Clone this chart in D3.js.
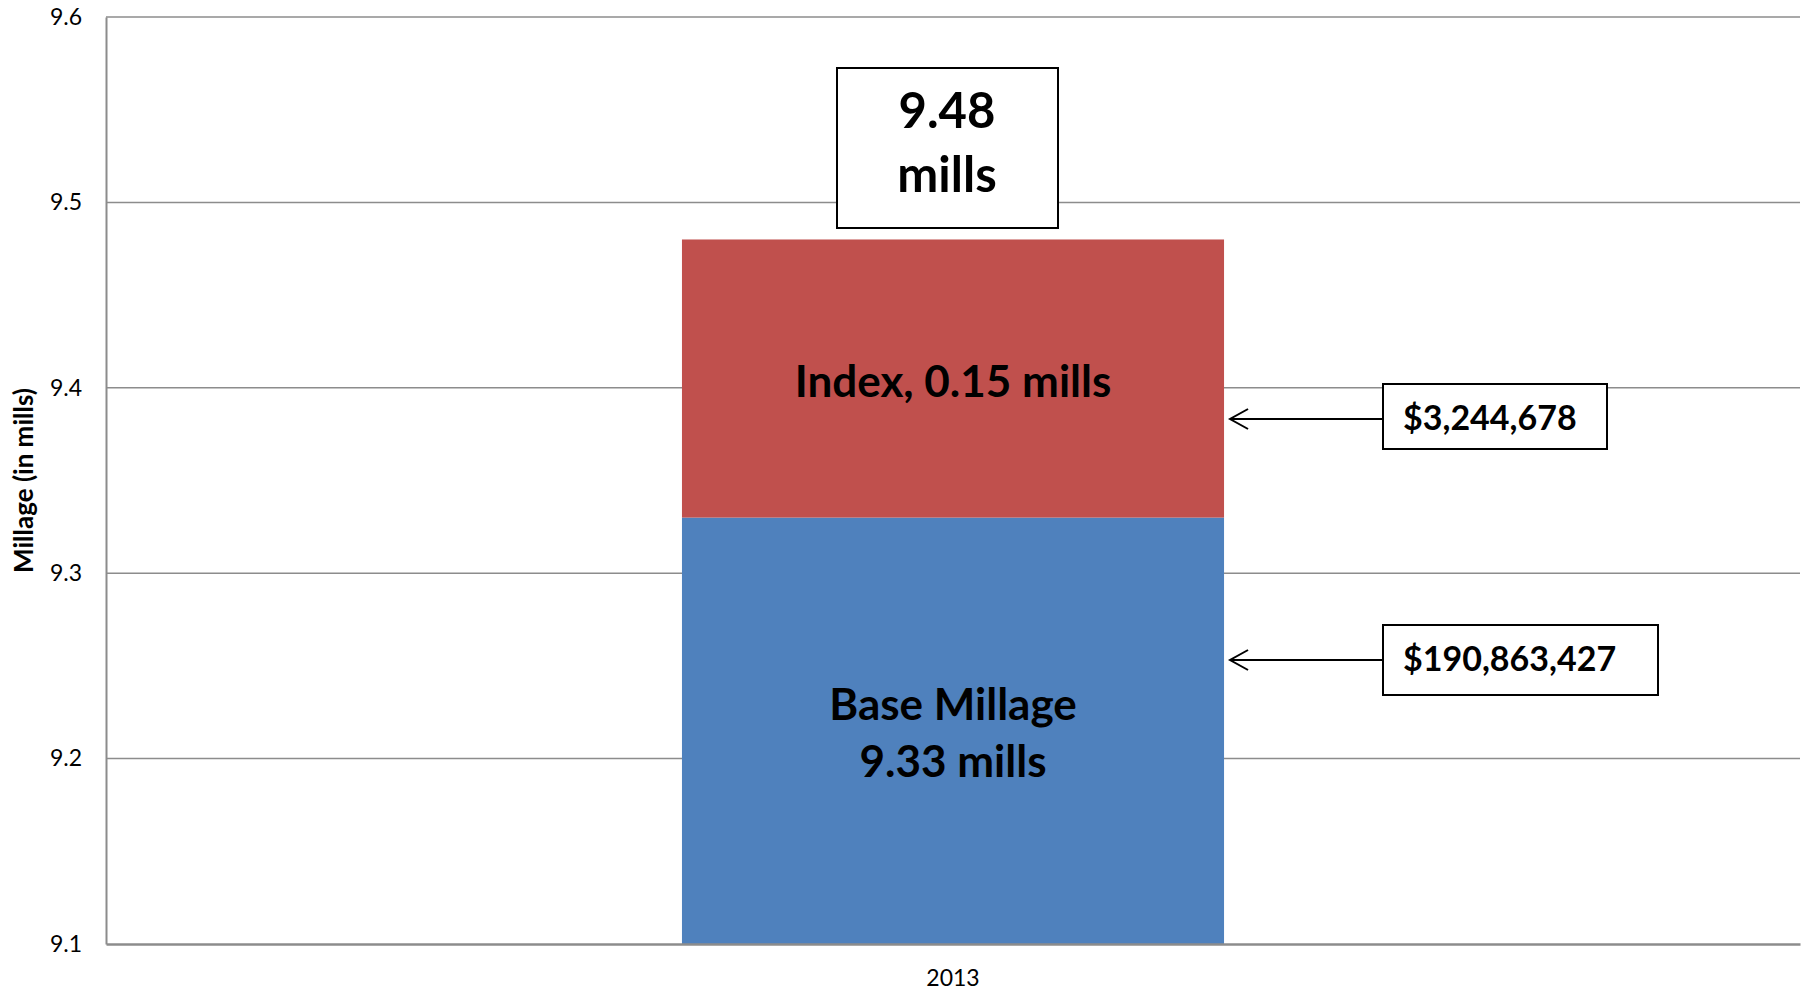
<!DOCTYPE html>
<html>
  <head>
    <meta charset="utf-8">
    <title>Millage 2013</title>
    <script src="https://d3js.org/d3.v7.min.js"></script>
  </head>
  <style>
    body { margin: 0; background: #fff; }
    svg text { font-family: Lato, "Open Sans", sans-serif; fill: #000; }
    .grid line { stroke: #8c8c8c; stroke-width: 1.5; }
    .callout { fill: #fff; stroke: #000; stroke-width: 2; }
  </style>
  <body>
    <script type="text/javascript">
        var width = 1803;
        var height = 992;

        // data
        const categories = ['2013'];
        const baseMillage = [9.33];
        const indexMillage = [0.15];
        const totalLabels = ['9.48', 'mills'];
        const dollarLabels = ['$3,244,678', '$190,863,427'];
        const yTicks = [9.1, 9.2, 9.3, 9.4, 9.5, 9.6];

        const margin = {left: 106, right: 3, top: 17, bottom: 48};
        const svg = d3.select('body').append('svg').attr('width', width).attr('height', height);

        const x = d3.scaleBand().domain(categories).range([margin.left, width - margin.right]).paddingInner(0.68).paddingOuter(0.34);
        const y = d3.scaleLinear().domain([9.1, 9.6]).range([height - margin.bottom, margin.top]);

        // gridlines
        svg.append('g').attr('class', 'grid')
          .selectAll('line').data(yTicks.slice(1)).enter().append('line')
          .attr('x1', margin.left).attr('x2', width - margin.right)
          .attr('y1', d => y(d)).attr('y2', d => y(d));

        // y axis
        const yAxis = svg.append('g').attr('transform', 'translate(' + margin.left + ',0)')
          .call(d3.axisLeft(y).tickValues(yTicks).tickFormat(d3.format('.1f')).tickSize(0).tickPadding(24));
        yAxis.select('.domain').attr('stroke', '#8c8c8c').attr('stroke-width', 2);
        yAxis.selectAll('text').attr('font-size', 23).attr('font-family', '"Open Sans", sans-serif');

        svg.append('text')
          .attr('transform', 'translate(33,' + y(9.35) + ') rotate(-90)')
          .attr('text-anchor', 'middle').attr('font-size', 26).attr('font-weight', 'bold')
          .text('Millage (in mills)');

        // stacked bar
        const bx = x(categories[0]);
        const bw = x.bandwidth();
        svg.append('rect').attr('x', bx).attr('width', bw)
          .attr('y', y(baseMillage[0])).attr('height', y(9.1) - y(baseMillage[0]))
          .attr('fill', '#4f81bd');
        svg.append('rect').attr('x', bx).attr('width', bw)
          .attr('y', y(baseMillage[0] + indexMillage[0])).attr('height', y(baseMillage[0]) - y(baseMillage[0] + indexMillage[0]))
          .attr('fill', '#c0504d');

        // x axis
        const xAxis = svg.append('g').attr('transform', 'translate(0,' + y(9.1) + ')')
          .call(d3.axisBottom(x).tickSize(0).tickPadding(26));
        xAxis.select('.domain').attr('stroke', '#8c8c8c').attr('stroke-width', 2.5);
        xAxis.selectAll('text').attr('font-size', 23).attr('font-family', '"Open Sans", sans-serif');

        const cx = bx + bw / 2;
        svg.append('text').attr('x', cx).attr('y', 397).attr('text-anchor', 'middle')
          .attr('font-size', 44).attr('font-weight', 'bold').text('Index, ' + indexMillage[0].toFixed(2) + ' mills');
        svg.append('text').attr('x', cx).attr('y', 720).attr('text-anchor', 'middle')
          .attr('font-size', 44).attr('font-weight', 'bold').text('Base Millage');
        svg.append('text').attr('x', cx).attr('y', 777).attr('text-anchor', 'middle')
          .attr('font-size', 44).attr('font-weight', 'bold').text(baseMillage[0].toFixed(2) + ' mills');

        // total callout
        svg.append('rect').attr('class', 'callout').attr('x', 837).attr('y', 68).attr('width', 221).attr('height', 160);
        svg.append('text').attr('x', 947).attr('y', 128).attr('text-anchor', 'middle')
          .attr('font-size', 49).attr('font-weight', 'bold').text(totalLabels[0]);
        svg.append('text').attr('x', 947).attr('y', 192).attr('text-anchor', 'middle')
          .attr('font-size', 49).attr('font-weight', 'bold').text(totalLabels[1]);

        // dollar callouts with arrows
        const boxes = [
          {y0: 384, w: 224, h: 65, ay: 419},
          {y0: 625, w: 275, h: 70, ay: 660}
        ];
        const xr = bx + bw;
        boxes.forEach((b, i) => {
          svg.append('line').attr('x1', xr + 6).attr('x2', 1383).attr('y1', b.ay).attr('y2', b.ay)
            .attr('stroke', '#000').attr('stroke-width', 2);
          svg.append('path').attr('d', 'M' + (xr + 24) + ',' + (b.ay - 10) + 'L' + (xr + 6) + ',' + b.ay + 'L' + (xr + 24) + ',' + (b.ay + 10))
            .attr('fill', 'none').attr('stroke', '#000').attr('stroke-width', 2);
          svg.append('rect').attr('class', 'callout').attr('x', 1383).attr('y', b.y0).attr('width', b.w).attr('height', b.h);
          svg.append('text').attr('x', 1403).attr('y', b.ay + 11).attr('font-size', 34).attr('font-weight', 'bold').text(dollarLabels[i]);
        });
      </script>
  </body>
</html>
